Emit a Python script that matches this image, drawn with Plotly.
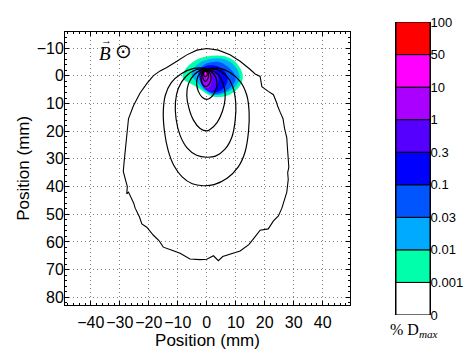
import plotly.graph_objects as go

W, H = 466, 351

# ---- isodose lines (mm); outer one is the measured low-dose boundary ----
outer_x = [0, 4, 8, 11.5, 14.9, 16.7, 18.4, 19, 21.2, 23, 24.1, 24.4, 25.3, 26.3, 26.8,
           27.6, 27.8, 28.1, 28.3, 27.9, 28.1, 27.6, 27, 25.9, 24.7, 23, 21.2, 18.4, 16.7,
           14.5, 11.5, 8, 5.5, 4, 2.3, 0, -2.3, -5.8, -7.5, -9.2, -12, -15, -16.5, -18.4,
           -20.7, -22.4, -23.2, -24.7, -25.2, -25.9, -27, -27.6, -27.4, -27.8, -28.8, -28.5,
           -28.2, -27.8, -27.6, -27, -25.3, -24.1, -23, -20.7, -18.4, -16.1, -13.8, -10.3,
           -6.9, -3.4, 0]
outer_y = [-9.9, -9.3, -7.6, -5.3, -2.4, -0.7, 0.2, 3.9, 5.6, 6.8, 9.7, 10.8, 13.1, 15.5,
           18.9, 22.4, 25.8, 30.4, 33, 35, 37.4, 42, 44.3, 47.8, 50.6, 52.4, 55.3, 55.8, 58.1,
           61, 63.3, 64.5, 65.3, 66.8, 65, 66.3, 66.4, 66.2, 65, 64.1, 63, 61.9, 59.5, 57.6,
           54.7, 53.5, 51, 47.8, 46, 44.3, 42, 42.6, 40, 38.5, 34.5, 31, 28.1, 23.5, 20.1,
           15.5, 10.8, 8.5, 6.2, 2.8, -0.1, -1.8, -3, -5.3, -7.6, -9.3, -9.9]

iso_a_x = [0, 4, 8, 11.5, 13.8, 14.6, 14.4, 13.2, 10.8, 7, 2.5, -1.2, -5, -8.5, -11.3,
           -13.3, -14.6, -15, -14.3, -12.3, -8.8, -4.5, -1, 0]
iso_a_y = [-2.6, -2.8, -1.2, 2, 7, 13, 20, 27.5, 33, 37, 39.3, 39.7, 39, 36.5, 32.5,
           27, 20, 13, 7, 2.5, -0.8, -2.7, -2.8, -2.6]

iso_b_x = [0, 3.5, 6.8, 9, 10, 9.8, 8.7, 6.3, 3, 0, -3.5, -6.8, -9.2, -10.6, -10.8, -9.8,
           -7.3, -3.5, 0]
iso_b_y = [-2.5, -2.3, 0, 4, 10, 16, 22, 26.5, 29, 29.4, 28.7, 26, 21.5, 15.5, 9.5, 4.5,
           0.3, -2.3, -2.5]

iso_c_x = [0, 2.6, 4.8, 6.1, 6.3, 5.4, 3.6, 1, 0, -2.3, -4.6, -6.2, -6.9, -6.3, -4.3, -2, 0]
iso_c_y = [-2.4, -1.6, 0.8, 4.5, 8.5, 12.8, 16.8, 19.5, 19.9, 19, 16, 11.5, 7, 2.8, -0.5,
           -2.1, -2.4]

iso_d_x = [0, 1.8, 3.1, 3.5, 2.8, 1.3, 0, -1.5, -2.9, -3.5, -3.1, -1.8, 0]
iso_d_y = [-2.2, -1.3, 0.6, 3, 5.8, 7.9, 8.5, 7.8, 5.6, 2.8, 0.3, -1.5, -2.2]

iso_e_x = [-0.3, 0.9, 1.5, 1.1, -0.2, -1.5, -2.0, -1.5, -0.3]
iso_e_y = [-2.0, -1.3, 0.5, 2.5, 3.9, 3.0, 0.8, -1.2, -2.0]

iso_f_x = [-0.4, 0.4, 0.6, 0.2, -0.6, -1.2, -1.4, -1.1, -0.4]
iso_f_y = [-2.0, -1.4, 0, 1.4, 2, 1.2, -0.3, -1.5, -2.0]

iso_g_x = [-0.5, 0.1, 0.1, -0.5, -1.0, -1.0, -0.5]
iso_g_y = [-1.7, -1.2, -0.2, 0.3, -0.3, -1.3, -1.7]

# ---- filled out-of-field dose bands (mm), lowest band first ----
band1_x = [-8.3, -7.8, -6, -3.2, 0, 3.4, 6.3, 9, 11, 12.2, 12.4, 11.6, 10, 7.8, 5.5, 3,
           0.8, -1.2, -3.2, -5.5, -7.5, -8.3]
band1_y = [0.6, -1.7, -4, -6, -7, -7.4, -7.1, -5.8, -3.6, -1.2, 0.9, 3.3, 5.3, 6.8, 7.5,
           7.6, 6.9, 5.6, 4.2, 2.8, 1.8, 0.6]

band2_x = [-5.3, -4.3, -2.2, 0.7, 3.6, 6.6, 9.2, 10.9, 11.3, 10.4, 8.5, 6.3, 3.8, 1.5, -1,
           -3.3, -5.3]
band2_y = [-0.6, -2.9, -4.9, -6.0, -6.4, -5.9, -4.1, -1.5, 0.8, 3.2, 5.0, 6.2, 6.9, 6.6,
           5.0, 2.4, -0.6]

band3_x = [-3, -1.5, 1.5, 4.5, 7.5, 9.6, 9.9, 8.7, 6.7, 4.3, 2, 0, -1.8, -3]
band3_y = [-1.5, -3.6, -4.9, -4.9, -3.1, -0.5, 1.5, 3.7, 5.4, 6.4, 6.5, 5.3, 3, -1.5]

band4_x = [-2.5, -1.5, 1, 4, 6.3, 7.2, 6.6, 4.8, 2.5, 0.5, -1.2, -2.3, -2.5]
band4_y = [-1.2, -2.8, -3.8, -3.4, -1.5, 1, 3.4, 5.3, 6, 5.2, 3, 0.8, -1.2]

band5_x = [-2.2, -1, 1, 3, 4, 3.8, 2.6, 0.8, -0.8, -1.9, -2.2]
band5_y = [-1.3, -2.5, -2.7, -1.8, 0.5, 3, 5, 5.6, 4.6, 2.5, -1.3]

band6_x = [-1.6, -0.6, 0.8, 1.7, 1.7, 1.1, 0, -1, -1.5, -1.6]
band6_y = [-1, -1.9, -1.7, -0.2, 2, 3.8, 4.5, 3.6, 1.5, -1]

band7_x = [-0.9, -0.3, 0.2, 0.3, 0, -0.6, -0.9, -0.9]
band7_y = [-0.8, -1.3, -0.9, 0, 0.7, 0.5, -0.2, -0.8]

# ---- colour scale (% of D_max) ----
level_labels = ["0", "0.001", "0.01", "0.03", "0.1", "0.3", "1", "10", "50", "100"]
level_colors = ["#FFFFFF", "#00FFAA", "#00AAFF", "#0055FF", "#0000FF", "#5500FF",
                "#AA00FF", "#FF00FF", "#FF0000"]

x_ticks = [-40, -30, -20, -10, 0, 10, 20, 30, 40]
y_ticks = [-10, 0, 10, 20, 30, 40, 50, 60, 70, 80]

FONT = "Liberation Sans, Arial, sans-serif"
SERIF = "Liberation Serif, DejaVu Serif, serif"

fig = go.Figure()

bands = [(band1_x, band1_y), (band2_x, band2_y), (band3_x, band3_y), (band4_x, band4_y),
         (band5_x, band5_y), (band6_x, band6_y), (band7_x, band7_y)]
for i, (bx, by) in enumerate(bands):
    fig.add_trace(go.Scatter(
        x=bx, y=by, mode="lines", fill="toself", fillcolor=level_colors[i + 1],
        line=dict(width=0, shape="spline", smoothing=1.0, color=level_colors[i + 1]),
        hoverinfo="skip", showlegend=False))

fig.add_trace(go.Scatter(x=outer_x, y=outer_y, mode="lines",
                         line=dict(color="black", width=1.1), showlegend=False))
for cx, cy in [(iso_a_x, iso_a_y), (iso_b_x, iso_b_y), (iso_c_x, iso_c_y),
               (iso_d_x, iso_d_y), (iso_e_x, iso_e_y), (iso_f_x, iso_f_y),
               (iso_g_x, iso_g_y)]:
    fig.add_trace(go.Scatter(x=cx, y=cy, mode="lines",
                             line=dict(color="black", width=1.2, shape="spline",
                                       smoothing=0.8),
                             showlegend=False))

# discrete colour bar drawn as stacked unit cells
fig.add_trace(go.Bar(
    x=[0] * len(level_colors), y=[1] * len(level_colors),
    base=list(range(len(level_colors))), width=1,
    marker=dict(color=level_colors, line=dict(color="black", width=1)),
    xaxis="x2", yaxis="y2", showlegend=False, hoverinfo="skip"))

axis_common = dict(
    showline=True, linecolor="black", linewidth=1, mirror="allticks",
    ticks="inside", ticklen=4, tickcolor="black",
    showgrid=True, gridcolor="#808080", griddash="1px,3px", gridwidth=1,
    zeroline=False, tickfont=dict(family=FONT, size=16, color="black"),
    minor=dict(dtick=2, ticks="inside", ticklen=2, tickcolor="black", showgrid=False),
)

fig.update_layout(
    width=W, height=H,
    margin=dict(l=0, r=0, t=0, b=0),
    paper_bgcolor="white", plot_bgcolor="white",
    font=dict(family=FONT, color="black"),
    xaxis=dict(axis_common, domain=[65 / W, 350 / W], range=[-48.9, 49.4],
               tickmode="array", tickvals=x_ticks, tickangle=0, ticklabelstandoff=3,
               title=dict(text="Position (mm)", font=dict(size=17), standoff=0)),
    yaxis=dict(axis_common, domain=[40 / H, 325 / H], range=[82.7, -15.9],
               tickmode="array", tickvals=y_ticks, ticklabelstandoff=-3,
               title=dict(text="Position (mm)", font=dict(size=17), standoff=2)),
    xaxis2=dict(domain=[396 / W, 430 / W], range=[-0.5, 0.5], visible=False,
                anchor="y2"),
    yaxis2=dict(domain=[29.3 / H, 335.3 / H], range=[0, 9], anchor="x2", side="right",
                tickmode="array", tickvals=list(range(len(level_labels))),
                ticktext=level_labels, ticks="", showgrid=False, zeroline=False,
                showline=True, linecolor="black", linewidth=1, mirror=True,
                ticklabelstandoff=-3,
                tickfont=dict(family=FONT, size=13, color="black")),
    annotations=[
        dict(x=-35, y=-8.0, xref="x", yref="y", text="<i>B</i>", showarrow=False,
             font=dict(family=SERIF, size=19)),
        dict(x=-34.6, y=-13.0, xref="x", yref="y", text="\u2192", showarrow=False,
             font=dict(family=SERIF, size=11)),
        dict(x=-28.8, y=-9.0, xref="x", yref="y", text="\u2299", showarrow=False,
             font=dict(family="DejaVu Sans, sans-serif", size=20)),
        dict(x=414 / W, y=1 - 338 / H, xref="paper", yref="paper", xanchor="center",
             yanchor="middle", text="% D<sub><i>max</i></sub>", showarrow=False,
             font=dict(family=SERIF, size=16)),
    ],
)

fig.write_html("out.html")
